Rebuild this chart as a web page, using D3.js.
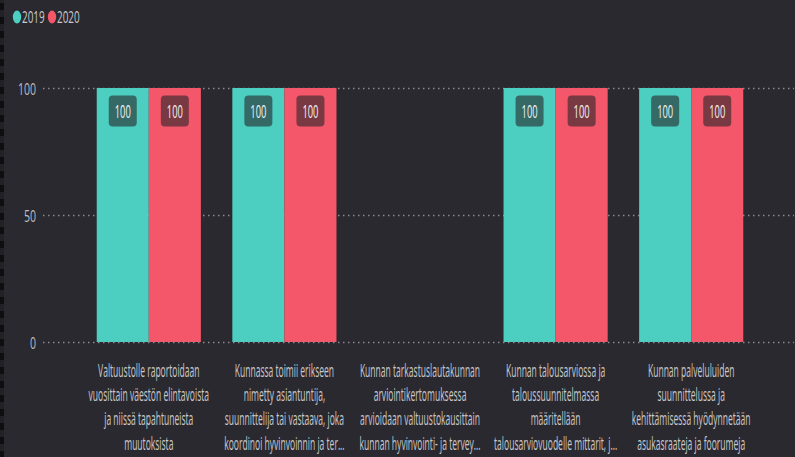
<!DOCTYPE html>
<html><head><meta charset="utf-8">
<script src="https://cdn.jsdelivr.net/npm/d3@7"></script>
<style>
html,body{margin:0;padding:0;background:#2a292f;overflow:hidden}
svg{display:block}
</style></head>
<body>
<svg id="chart" width="795" height="457"></svg>
<script>
const categories = [
  ["Valtuustolle raportoidaan","vuosittain väestön elintavoista","ja niissä tapahtuneista","muutoksista"],
  ["Kunnassa toimii erikseen","nimetty asiantuntija,","suunnittelija tai vastaava, joka","koordinoi hyvinvoinnin ja ter..."],
  ["Kunnan tarkastuslautakunnan","arviointikertomuksessa","arvioidaan valtuustokausittain","kunnan hyvinvointi- ja tervey..."],
  ["Kunnan talousarviossa ja","taloussuunnitelmassa","määritellään","talousarviovuodelle mittarit, j..."],
  ["Kunnan palveluluiden","suunnittelussa ja","kehittämisessä hyödynnetään","asukasraateja ja foorumeja"]
];
const seriesNames = ["2019","2020"];
const values2019 = [100,100,null,100,100];
const values2020 = [100,100,null,100,100];
const yTicks = [0,50,100];

const colors = {"2019":"#4ccfc0","2020":"#f5576a"};

const svg = d3.select("#chart");
const W = 795, H = 457;

// left edge strip
svg.append("rect").attr("x",0).attr("y",0).attr("width",4).attr("height",H).attr("fill","#222126");
const strip = d3.range(0,H,14);
svg.selectAll("rect.dash").data(strip).enter().append("rect")
  .attr("class","dash").attr("x",0).attr("y",d=>d+3).attr("width",4).attr("height",7).attr("fill","#0e0e10");

const x0 = d3.scaleBand().domain(d3.range(categories.length)).range([81,759]).paddingInner(0.232).paddingOuter(0.116);
const x1 = d3.scaleBand().domain(seriesNames).range([0,x0.bandwidth()]);
const y = d3.scaleLinear().domain([0,100]).range([342,88]);

function ctext(g, x, yy, str, opts){
  return g.append("text")
    .attr("transform",`translate(${x},${yy}) scale(${opts.sx},1)`)
    .attr("text-anchor",opts.anchor||"middle")
    .attr("dominant-baseline","central")
    .attr("font-family","'Open Sans', sans-serif")
    .attr("font-size",opts.size)
    .attr("fill",opts.fill)
    .text(str);
}

// grid
const grid = svg.append("g");
yTicks.filter(t=>t!==0).forEach(t=>{
  grid.append("line").attr("x1",43).attr("x2",794).attr("y1",y(t)+0.5).attr("y2",y(t)+0.5)
    .attr("stroke","#8a8a90").attr("stroke-width",1.5).attr("stroke-dasharray","1.5,3.5");
});
// y tick labels
yTicks.forEach(t=>ctext(svg,36,y(t),String(t),{size:17,fill:"#bdbdc2",anchor:"end",sx:0.62}));

// bars
const data = categories.map((c,i)=>({i, vals:[{s:"2019",v:values2019[i]},{s:"2020",v:values2020[i]}]}));
const groups = svg.append("g").selectAll("g").data(data).enter().append("g")
  .attr("transform",d=>`translate(${x0(d.i)},0)`);
groups.selectAll("rect").data(d=>d.vals.filter(v=>v.v!=null)).enter().append("rect")
  .attr("x",d=>x1(d.s)).attr("width",x1.bandwidth())
  .attr("y",d=>y(d.v)).attr("height",d=>y(0)-y(d.v))
  .attr("fill",d=>colors[d.s]);
// data labels
groups.each(function(d){
  const g = d3.select(this);
  d.vals.filter(v=>v.v!=null).forEach(v=>{
    const cx = x1(v.s)+x1.bandwidth()/2;
    const cy = y(v.v)+23;
    g.append("rect").attr("x",cx-14).attr("y",cy-15.5).attr("width",28).attr("height",31)
      .attr("rx",4).attr("fill","rgba(38,36,42,0.6)");
    ctext(g,cx,cy,String(v.v),{size:18,fill:"#f2f2f2",sx:0.52});
  });
});

// baseline
svg.append("line").attr("x1",43).attr("x2",794).attr("y1",y(0)+0.5).attr("y2",y(0)+0.5)
  .attr("stroke","#8a8a90").attr("stroke-width",1.5).attr("stroke-dasharray","1.5,3.5");

// category labels
categories.forEach((lines,i)=>{
  const cx = x0(i)+x0.bandwidth()/2;
  lines.forEach((ln,j)=>ctext(svg,cx,370+j*24.2,ln,{size:18,fill:"#c9c9cd",sx:0.475}));
});

// legend
const leg = [{s:"2019",cx:17,tx:22},{s:"2020",cx:52,tx:57}];
leg.forEach(l=>{
  svg.append("ellipse").attr("cx",l.cx).attr("cy",17).attr("rx",4.2).attr("ry",6.5).attr("fill",colors[l.s]);
  ctext(svg,l.tx,17,l.s,{size:16,fill:"#c9c9cd",anchor:"start",sx:0.62});
});
</script>
</body></html>
